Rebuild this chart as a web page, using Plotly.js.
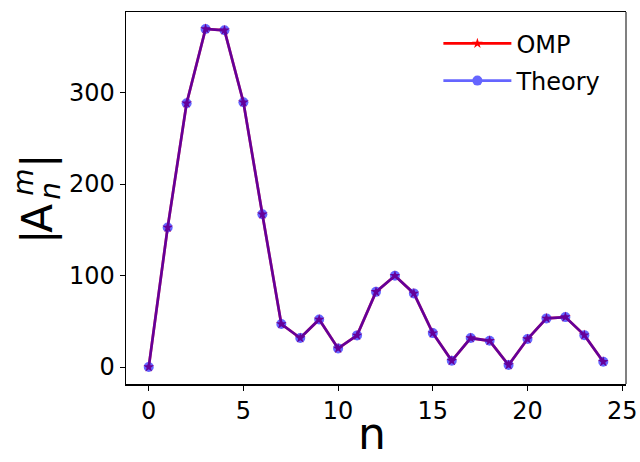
<!DOCTYPE html>
<html>
<head>
<meta charset="utf-8">
<script src="https://cdn.plot.ly/plotly-3.0.1.min.js"></script>
<style>
  html, body { margin: 0; padding: 0; background: #ffffff; }
  #chart { width: 640px; height: 462px; }
</style>
</head>
<body>
<div id="chart"></div>
<script>
// Mode index n and coefficient magnitudes |A_n^m|
const nValues = [0, 1, 2, 3, 4, 5, 6, 7, 8, 9, 10, 11, 12, 13, 14, 15, 16, 17, 18, 19, 20, 21, 22, 23, 24];
const ompValues = [0, 152.6, 288.3, 369.5, 368.0, 289.4, 167.0, 47.0, 31.7, 52.0, 20.4, 34.6, 82.2, 99.7, 80.5, 37.1, 6.9, 31.7, 28.7, 2.2, 30.6, 53.2, 54.6, 34.9, 5.8];
const theoryValues = [0, 152.6, 288.3, 369.5, 368.0, 289.4, 167.0, 47.0, 31.7, 52.0, 20.4, 34.6, 82.2, 99.7, 80.5, 37.1, 6.9, 31.7, 28.7, 2.2, 30.6, 53.2, 54.6, 34.9, 5.8];
const xTicks = [0, 5, 10, 15, 20, 25];
const yTicks = [0, 100, 200, 300];

const FONT = "DejaVu Sans, sans-serif";

const traces = [
  {
    x: nValues, y: ompValues, name: "OMP",
    type: "scatter", mode: "lines+markers",
    legendgroup: "omp",
    line: { color: "red", width: 2.7 },
    marker: { symbol: "star", size: 8, color: "red" }
  },
  {
    x: nValues, y: theoryValues, name: "Theory",
    type: "scatter", mode: "lines+markers",
    legendgroup: "theory",
    opacity: 0.6,
    line: { color: "blue", width: 2.7 },
    marker: { symbol: "circle", size: 10, color: "blue" }
  }
];

// plot area in pixels: x 125.5..625.7, y 11.5..384
const L = 125.5, T = 11.5, W = 500.2, H = 372.5;

function label(text, size, px, pyPix) {
  return {
    xref: "paper", yref: "paper",
    x: (px - L) / W, y: (T + H - pyPix) / H,
    text: text, showarrow: false,
    xanchor: "center", yanchor: "middle",
    font: { family: FONT, size: size, color: "black" }
  };
}

// y-axis label |A_n^m| assembled from rotated pieces so that
// the sub- and superscript stack above each other
const titleAnn = [
  { text: "|", size: 42, x: 37, y: 161 },
  { text: "A", size: 42, x: 37, y: 218 },
  { text: "|", size: 42, x: 37, y: 237 },
  { text: "<i>m</i>", size: 28, x: 23, y: 182 },
  { text: "<i>n</i>", size: 28, x: 50, y: 191 }
].map(a => Object.assign(label(a.text, a.size, a.x, a.y), { textangle: -90 }));

// x-axis label
titleAnn.push(label("n", 44, 372, 434));

const layout = {
  width: 640, height: 462,
  paper_bgcolor: "white", plot_bgcolor: "white",
  margin: { l: L, r: 640 - 625.7, t: T, b: 462 - 384, pad: 0 },
  showlegend: true,
  legend: {
    x: (438 - L) / W, y: 0.975, xanchor: "left", yanchor: "top",
    bgcolor: "rgba(0,0,0,0)", borderwidth: 0,
    font: { family: FONT, size: 24, color: "black" },
    traceorder: "grouped", tracegroupgap: 3,
    itemwidth: 68
  },
  xaxis: {
    range: [-1.2, 25.2],
    tickmode: "array", tickvals: xTicks, ticktext: xTicks.map(String),
    ticks: "outside", ticklen: 5, tickwidth: 1, tickcolor: "black",
    showline: true, linecolor: "black", linewidth: 1.5, mirror: true,
    showgrid: false, zeroline: false,
    tickfont: { family: FONT, size: 24, color: "black" }
  },
  yaxis: {
    range: [-18.5, 388],
    tickmode: "array", tickvals: yTicks, ticktext: yTicks.map(String),
    ticks: "outside", ticklen: 5, tickwidth: 1, tickcolor: "black",
    showline: true, linecolor: "black", linewidth: 1.5, mirror: false,
    showgrid: false, zeroline: false,
    tickfont: { family: FONT, size: 24, color: "black" }
  },
  shapes: [
    { type: "line", xref: "paper", yref: "paper", x0: 1, x1: 1, y0: 0, y1: 1,
      line: { color: "#808080", width: 2 } }
  ],
  annotations: titleAnn
};

Plotly.newPlot("chart", traces, layout, { staticPlot: true, displayModeBar: false });
</script>
</body>
</html>
